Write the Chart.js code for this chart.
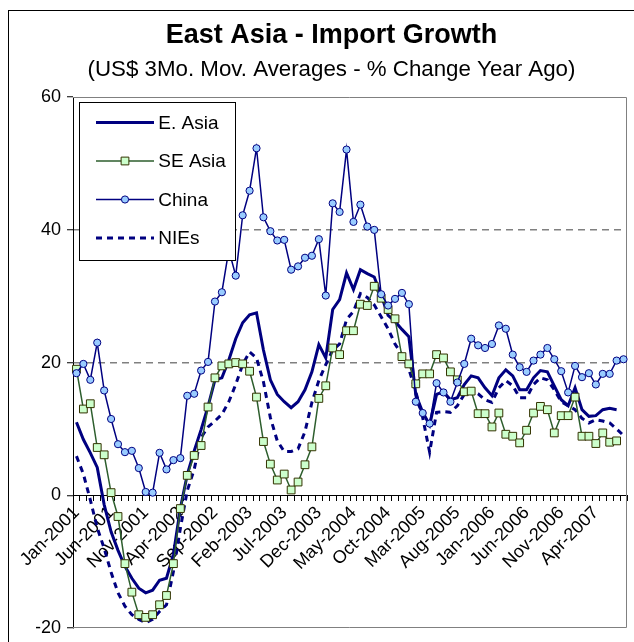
<!DOCTYPE html>
<html>
<head>
<meta charset="utf-8">
<script src="https://cdn.jsdelivr.net/npm/chart.js@4.4.0/dist/chart.umd.min.js"></script>
<style>
  html, body { margin: 0; padding: 0; overflow: hidden; background: #fff; }
  #frame { position: absolute; left: 8px; top: 10px; width: 646px; height: 640px; border: 1px solid #000; }
  canvas { display: block; }
</style>
</head>
<body>
<div id="frame"><canvas id="chart" width="646" height="640"></canvas></div>
<script>
// monthly categories, Jan-2001 .. Aug-2007
const months = [
  'Jan-2001','Feb-2001','Mar-2001','Apr-2001','May-2001','Jun-2001','Jul-2001','Aug-2001','Sep-2001','Oct-2001','Nov-2001','Dec-2001',
  'Jan-2002','Feb-2002','Mar-2002','Apr-2002','May-2002','Jun-2002','Jul-2002','Aug-2002','Sep-2002','Oct-2002','Nov-2002','Dec-2002',
  'Jan-2003','Feb-2003','Mar-2003','Apr-2003','May-2003','Jun-2003','Jul-2003','Aug-2003','Sep-2003','Oct-2003','Nov-2003','Dec-2003',
  'Jan-2004','Feb-2004','Mar-2004','Apr-2004','May-2004','Jun-2004','Jul-2004','Aug-2004','Sep-2004','Oct-2004','Nov-2004','Dec-2004',
  'Jan-2005','Feb-2005','Mar-2005','Apr-2005','May-2005','Jun-2005','Jul-2005','Aug-2005','Sep-2005','Oct-2005','Nov-2005','Dec-2005',
  'Jan-2006','Feb-2006','Mar-2006','Apr-2006','May-2006','Jun-2006','Jul-2006','Aug-2006','Sep-2006','Oct-2006','Nov-2006','Dec-2006',
  'Jan-2007','Feb-2007','Mar-2007','Apr-2007','May-2007','Jun-2007','Jul-2007','Aug-2007'
];

const eAsia = [
  11.0, 8.4, 6.4, 4.2, -1.4, -5.5, -8.3, -10.7, -12.5, -14.0,
  -14.7, -14.3, -12.8, -12.5, -8.9, -2.0, 3.1, 6.7, 9.9, 13.4,
  17.4, 17.7, 20.4, 23.6, 26.0, 27.2, 27.5, 21.9, 17.4, 15.2,
  14.1, 13.2, 14.1, 15.9, 18.6, 22.7, 20.7, 28.0, 29.5, 33.5,
  31.0, 34.0, 33.4, 32.9, 30.2, 27.1, 26.2, 25.0, 23.9, 15.2,
  12.5, 10.6, 15.2, 15.6, 14.4, 14.7, 16.7, 18.0, 17.7, 16.2,
  15.0, 17.7, 18.9, 18.0, 15.9, 15.9, 17.7, 18.8, 18.6, 16.5,
  14.4, 13.5, 16.2, 12.9, 11.9, 12.0, 12.9, 13.1, 12.9, null
];

const seAsia = [
  19.0, 13.0, 13.8, 7.2, 6.1, 0.4, -3.2, -10.3, -14.6, -18.0,
  -18.4, -18.0, -16.5, -15.1, -10.3, -2.0, 3.0, 6.0, 7.5, 13.3,
  17.7, 19.5, 19.8, 20.0, 19.8, 18.7, 14.8, 8.1, 4.7, 2.3,
  3.2, 0.8, 2.0, 4.6, 7.3, 14.6, 16.5, 22.2, 21.2, 24.8,
  24.8, 28.8, 28.6, 31.5, 29.7, 28.0, 26.6, 20.9, 19.8, 16.8,
  18.3, 18.3, 21.2, 20.7, 18.6, 17.4, 15.6, 15.7, 12.3, 12.3,
  10.3, 12.4, 9.2, 8.9, 7.9, 9.8, 12.4, 13.4, 12.9, 9.4,
  12.0, 12.0, 14.8, 8.9, 8.9, 7.8, 9.4, 8.0, 8.2, null
];

const china = [
  18.4, 19.8, 17.4, 23.0, 15.8, 11.5, 7.7, 6.5, 6.7, 4.1,
  0.5, 0.4, 6.4, 3.9, 5.3, 5.6, 15.0, 15.3, 18.8, 20.1,
  29.2, 30.6, 37.0, 33.1, 42.2, 45.9, 52.3, 41.9, 39.8, 38.4,
  38.5, 34.0, 34.5, 35.8, 36.1, 38.6, 30.1, 44.0, 42.7, 52.1,
  41.2, 43.8, 40.5, 40.0, 30.3, 28.6, 29.6, 30.5, 28.8, 14.1,
  12.4, 10.8, 16.9, 15.5, 14.1, 17.0, 19.8, 23.6, 22.6, 22.2,
  22.8, 25.6, 25.1, 21.2, 19.3, 18.6, 20.3, 21.2, 22.2, 20.5,
  18.7, 15.5, 19.5, 17.8, 18.4, 16.7, 18.3, 18.3, 20.3, 20.5
];

const nies = [
  5.9, 3.2, -0.7, -4.9, -8.0, -11.6, -14.7, -16.7, -18.0, -18.7,
  -19.2, -18.7, -17.5, -16.5, -11.5, -5.0, 0.7, 3.9, 8.7, 10.3,
  11.2, 12.2, 14.1, 16.7, 19.7, 21.6, 20.7, 17.1, 11.7, 8.2,
  6.6, 6.6, 7.0, 9.6, 14.0, 17.3, 19.7, 21.9, 22.8, 26.5,
  27.7, 30.4, 29.8, 28.7, 26.9, 25.1, 22.8, 21.2, 19.0, 15.6,
  11.7, 6.5, 12.5, 12.6, 12.5, 13.5, 15.2, 15.9, 15.3, 14.4,
  14.0, 16.2, 17.3, 16.5, 14.7, 14.7, 16.7, 17.7, 17.4, 15.9,
  14.1, 13.5, 12.9, 11.6, 10.9, 11.4, 11.2, 10.9, 10.0, 9.0
];

const yTicks = [-20, 0, 20, 40, 60];
const dashedAt = [20, 40];
const labelEvery = 5;

const FONT = '"Liberation Sans", Arial, sans-serif';

// gray plot-area border (top, right, bottom); left side is the black axis
const plotFrame = {
  id: 'plotFrame',
  beforeDatasetsDraw(chart) {
    const { ctx, chartArea: a } = chart;
    ctx.save();
    ctx.strokeStyle = '#808080';
    ctx.lineWidth = 1;
    ctx.beginPath();
    ctx.moveTo(a.left, Math.round(a.top) + 0.5);
    ctx.lineTo(Math.round(a.right) - 0.5, Math.round(a.top) + 0.5);
    ctx.lineTo(Math.round(a.right) - 0.5, Math.round(a.bottom) - 0.5);
    ctx.lineTo(a.left, Math.round(a.bottom) - 0.5);
    ctx.stroke();
    ctx.restore();
  }
};

// boxed legend inside the plot, top-left
const boxLegend = {
  id: 'boxLegend',
  afterDatasetsDraw(chart) {
    const { ctx, chartArea: a } = chart;
    const x = Math.round(a.left) + 6.5, y = Math.round(a.top) + 5.5;
    const w = 156, h = 158;
    ctx.save();
    ctx.fillStyle = '#fff';
    ctx.fillRect(x, y, w, h);
    ctx.strokeStyle = '#000';
    ctx.lineWidth = 1;
    ctx.strokeRect(x, y, w, h);

    chart.data.datasets.forEach((ds, i) => {
      const cy = y + 20 + i * 38.5;
      const x1 = x + 16.5, x2 = x + 74.5;
      ctx.save();
      ctx.strokeStyle = ds.borderColor;
      ctx.lineWidth = ds.borderWidth;
      ctx.setLineDash(ds.borderDash || []);
      ctx.beginPath();
      ctx.moveTo(x1, cy);
      ctx.lineTo(x2, cy);
      ctx.stroke();
      ctx.restore();

      if (ds.pointRadius > 0) {
        const mx = (x1 + x2) / 2;
        ctx.save();
        ctx.fillStyle = ds.pointBackgroundColor;
        ctx.strokeStyle = ds.pointBorderColor;
        ctx.lineWidth = ds.pointBorderWidth;
        ctx.beginPath();
        if (ds.pointStyle === 'rect') {
          const s = ds.pointRadius * Math.SQRT1_2;
          ctx.rect(mx - s, cy - s, 2 * s, 2 * s);
        } else {
          ctx.arc(mx, cy, ds.pointRadius, 0, Math.PI * 2);
        }
        ctx.fill();
        ctx.stroke();
        ctx.restore();
      }

      ctx.fillStyle = '#000';
      ctx.font = '19px ' + FONT;
      ctx.textBaseline = 'middle';
      ctx.fillText(ds.label, x + 78.8, cy + 1);
    });
    ctx.restore();
  }
};

new Chart(document.getElementById('chart'), {
  type: 'line',
  data: {
    labels: months,
    datasets: [
      {
        label: 'E. Asia', data: eAsia, order: 2,
        borderColor: '#000080', borderWidth: 3, pointRadius: 0, tension: 0
      },
      {
        label: 'SE Asia', data: seAsia, order: 1,
        borderColor: '#2d5e2d', borderWidth: 1.5,
        pointStyle: 'rect', pointRadius: 5.5,
        pointBackgroundColor: '#ccffcc', pointBorderColor: '#333300', pointBorderWidth: 1
      },
      {
        label: 'China', data: china, order: 0,
        borderColor: '#000080', borderWidth: 1.5,
        pointStyle: 'circle', pointRadius: 3.6,
        pointBackgroundColor: '#99ccff', pointBorderColor: '#000080', pointBorderWidth: 1
      },
      {
        label: 'NIEs', data: nies, order: 3,
        borderColor: '#000080', borderWidth: 3, borderDash: [6, 5], pointRadius: 0
      }
    ]
  },
  options: {
    responsive: false,
    animation: false,
    devicePixelRatio: 1,
    events: [],
    layout: { padding: { left: 27, right: 28, top: 0, bottom: 23 } },
    plugins: {
      legend: { display: false },
      tooltip: { enabled: false },
      title: {
        display: true,
        text: 'East Asia - Import Growth',
        color: '#000',
        font: { family: FONT, size: 27, weight: 'bold' },
        padding: { top: 8, bottom: 0 }
      },
      subtitle: {
        display: true,
        text: '(US$ 3Mo. Mov. Averages - % Change Year Ago)',
        color: '#000',
        font: { family: FONT, size: 22.3 },
        padding: { top: 5, bottom: 14 }
      }
    },
    scales: {
      x: {
        type: 'category',
        offset: true,
        position: { y: 0 },
        afterFit: (s) => { s.height = 0; s.paddingLeft = 0; s.paddingRight = 0; },
        grid: {
          offset: true,
          drawOnChartArea: false,
          color: 'rgba(0,0,0,0)',
          tickColor: '#000',
          tickLength: 5,
          tickWidth: 1
        },
        border: { color: '#000', width: 1 },
        ticks: {
          autoSkip: false,
          maxRotation: 45,
          minRotation: 45,
          padding: 2,
          color: '#000',
          font: { family: FONT, size: 18 },
          callback: function (v, i) { return i % labelEvery === 0 ? this.getLabelForValue(v) : ''; }
        }
      },
      y: {
        min: yTicks[0],
        max: yTicks[yTicks.length - 1],
        afterBuildTicks: (s) => { s.ticks = yTicks.map(v => ({ value: v })); },
        afterFit: (s) => { s.width = 37; s.paddingTop = 0; s.paddingBottom = 0; },
        grid: {
          color: (c) => (c.tick && dashedAt.includes(c.tick.value)) ? '#808080' : 'rgba(0,0,0,0)',
          lineWidth: 1.5,
          tickColor: '#000',
          tickLength: 6,
          tickWidth: 1
        },
        border: { color: '#000', width: 1, dash: [7, 5] },
        ticks: {
          padding: 6,
          color: '#000',
          font: { family: FONT, size: 18 }
        }
      }
    }
  },
  plugins: [plotFrame, boxLegend]
});
</script>
</body>
</html>
